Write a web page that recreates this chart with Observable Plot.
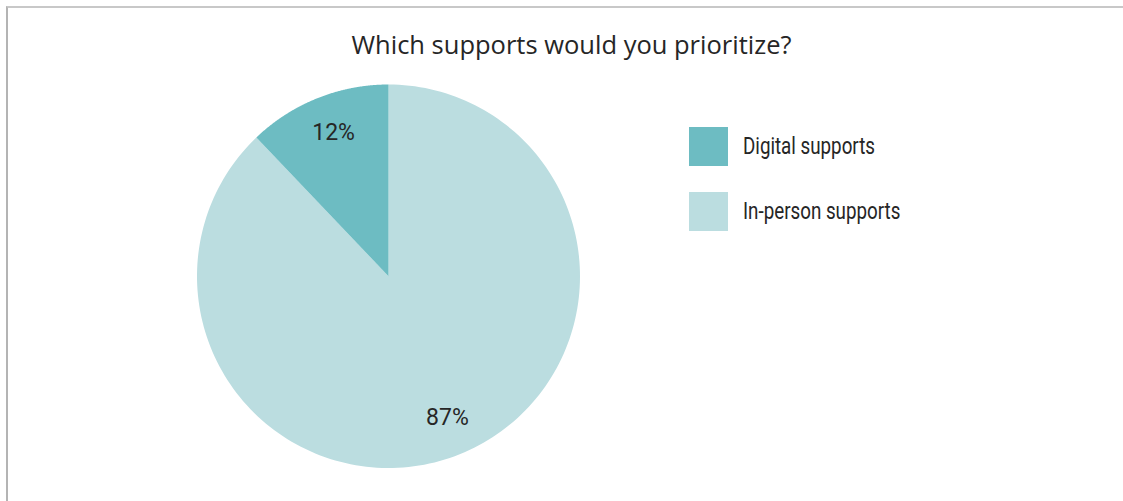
<!DOCTYPE html>
<html>
<head>
<meta charset="utf-8">
<script src="https://cdn.jsdelivr.net/npm/d3@7"></script>
<script src="https://cdn.jsdelivr.net/npm/@observablehq/plot@0.6"></script>
<style>
  html, body { margin: 0; padding: 0; background: #fff; }
  #wrap { position: relative; width: 1123px; height: 501px; overflow: hidden; }
  #frame { position: absolute; left: 6px; top: 6px; width: 1130px; height: 520px;
           border-top: 2px solid #c8c8c8; border-left: 2px solid #b4b4b4; box-sizing: border-box; }
  #title { position: absolute; left: 0; width: 1143px; top: 27px; text-align: center;
           font-family: "Open Sans", "Noto Sans", sans-serif; font-size: 25.5px; color: #262626; }
  #chart { position: absolute; left: 0; top: 0; }
  #legend { position: absolute; left: 689px; top: 127px; font-family: Roboto, sans-serif; }
  .item { position: relative; height: 65px; }
  .sw { position: absolute; left: 0; top: 0; width: 39px; height: 39px; }
  .lab { position: absolute; left: 54px; top: 5px; font-size: 24px; color: #262626; white-space: nowrap;
         transform-origin: 0 50%; }
</style>
</head>
<body>
<div id="wrap">
  <div id="frame"></div>
  <div id="chart"></div>
  <div id="title">Which supports would you prioritize?</div>
  <div id="legend"></div>
</div>
<script>
const categories = ["In-person supports", "Digital supports"];
const values = [87, 12];
const labels = ["87%", "12%"];
const colors = ["#bbdde0", "#6dbcc2"];
const legendOrder = ["Digital supports", "In-person supports"];

const data = categories.map((c, i) => ({cat: c, value: values[i], label: labels[i]}));
const arcs = d3.pie().sort(null).value(d => d.value)(data);

// polygon points for each slice in unit coordinates (y up, angle clockwise from 12 o'clock)
const pts = [];
for (const a of arcs) {
  const n = 200;
  pts.push({cat: a.data.cat, x: 0, y: 0});
  for (let k = 0; k <= n; k++) {
    const t = a.startAngle + (a.endAngle - a.startAngle) * k / n;
    pts.push({cat: a.data.cat, x: Math.sin(t), y: Math.cos(t)});
  }
  pts.push({cat: a.data.cat, x: 0, y: 0});
}
const labelPts = arcs.map(a => {
  const m = (a.startAngle + a.endAngle) / 2;
  return {label: a.data.label, x: 0.8 * Math.sin(m), y: 0.8 * Math.cos(m)};
});

const plot = Plot.plot({
  width: 1123,
  height: 501,
  margin: 0,
  x: {domain: [-1, 1], range: [196.5, 579.5], axis: null},
  y: {domain: [-1, 1], range: [467.5, 84], axis: null},
  color: {domain: categories, range: colors},
  style: {background: "transparent"},
  marks: [
    Plot.line(pts, {x: "x", y: "y", z: "cat", fill: "cat", stroke: "none", curve: "linear"}),
    Plot.text(labelPts, {x: "x", y: "y", text: "label", fontSize: 23, fill: "#262626",
      fontFamily: "Roboto, sans-serif", dx: 2, dy: -1})
  ]
});
document.getElementById("chart").appendChild(plot);

const leg = document.getElementById("legend");
for (const c of legendOrder) {
  const i = categories.indexOf(c);
  const it = document.createElement("div");
  it.className = "item";
  it.innerHTML = `<div class="sw" style="background:${colors[i]}"></div><div class="lab">${c}</div>`;
  leg.appendChild(it);
}
// condense legend text (reference uses a condensed face)
const labs = leg.querySelectorAll(".lab");
const w0 = labs[0].getBoundingClientRect().width;
const s = 132 / w0;
labs.forEach(l => l.style.transform = `scaleX(${s})`);
</script>
</body>
</html>
